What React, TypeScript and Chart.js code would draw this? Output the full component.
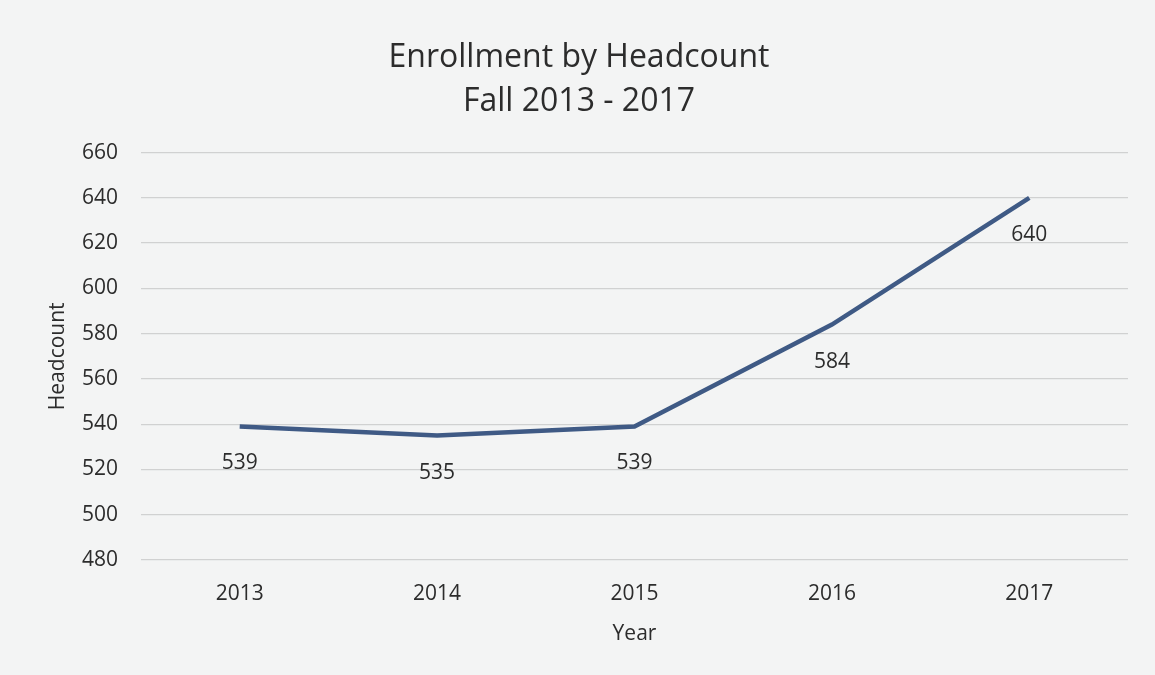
import React, { useEffect, useRef } from "react";
import { Chart, registerables } from "chart.js";

Chart.register(...registerables);

const years: string[] = ["2013", "2014", "2015", "2016", "2017"];
const headcount: number[] = [539, 535, 539, 584, 640];
const titleLines: string[] = ["Enrollment by Headcount", "Fall 2013 - 2017"];
const yMin = 480;
const yMax = 660;
const yStep = 20;

const FONT = "'Open Sans', 'Noto Sans', sans-serif";
const TEXT = "#2c2c2c";

const labelPlugin = {
  id: "pointLabels",
  afterDatasetsDraw(chart: any) {
    const ctx = chart.ctx;
    const meta = chart.getDatasetMeta(0);
    ctx.save();
    ctx.font = `21px ${FONT}`;
    ctx.fillStyle = TEXT;
    ctx.textAlign = "center";
    ctx.textBaseline = "middle";
    meta.data.forEach((el: any, i: number) => {
      ctx.fillText(String(headcount[i]), el.x, el.y + 37);
    });
    ctx.restore();
  },
};

const bgPlugin = {
  id: "bg",
  beforeDraw(chart: any) {
    const ctx = chart.ctx;
    ctx.save();
    ctx.fillStyle = "#f3f4f4";
    ctx.fillRect(0, 0, chart.width, chart.height);
    ctx.restore();
  },
};

export default function App() {
  const ref = useRef<HTMLCanvasElement | null>(null);

  useEffect(() => {
    document.body.style.margin = "0";
    if (!ref.current) return;
    const chart = new Chart(ref.current, {
      type: "line",
      data: {
        labels: years,
        datasets: [
          {
            data: headcount,
            borderColor: "#3f5a85",
            borderWidth: 4.5,
            pointRadius: 0,
            tension: 0,
            fill: false,
          },
        ],
      },
      options: {
        animation: false,
        responsive: false,
        maintainAspectRatio: false,
        layout: { padding: { left: 30, right: 27, top: 0, bottom: 20 } },
        plugins: {
          legend: { display: false },
          tooltip: { enabled: false },
          title: {
            display: true,
            text: titleLines,
            color: TEXT,
            font: { family: FONT, size: 32, weight: "normal", lineHeight: 1.4 },
            padding: { top: 35, bottom: 28 },
          },
        },
        scales: {
          x: {
            offset: true,
            grid: { display: false, drawTicks: false },
            border: { display: false },
            ticks: { color: TEXT, font: { family: FONT, size: 21 }, padding: 21 },
            title: {
              display: true,
              text: "Year",
              color: TEXT,
              font: { family: FONT, size: 21, lineHeight: 1.2 },
              padding: { top: 0, bottom: 8 },
            },
            afterFit: (s: any) => {
              s.height = 95;
            },
          },
          y: {
            min: yMin,
            max: yMax,
            grid: { color: "#d0d1d1", lineWidth: 1.3, drawTicks: false },
            border: { display: false },
            ticks: {
              stepSize: yStep,
              color: TEXT,
              font: { family: FONT, size: 21 },
              padding: 23,
            },
            title: {
              display: true,
              text: "Headcount",
              color: TEXT,
              font: { family: FONT, size: 21, lineHeight: 1.2 },
              padding: { top: 15, bottom: 0 },
            },
            afterFit: (s: any) => {
              s.width = 111;
            },
          },
        },
      },
      plugins: [bgPlugin, labelPlugin],
    } as any);
    return () => chart.destroy();
  }, []);

  return (
    <div style={{ width: 1155, height: 675 }}>
      <canvas ref={ref} width={1155} height={675} style={{ display: "block" }} />
    </div>
  );
}
